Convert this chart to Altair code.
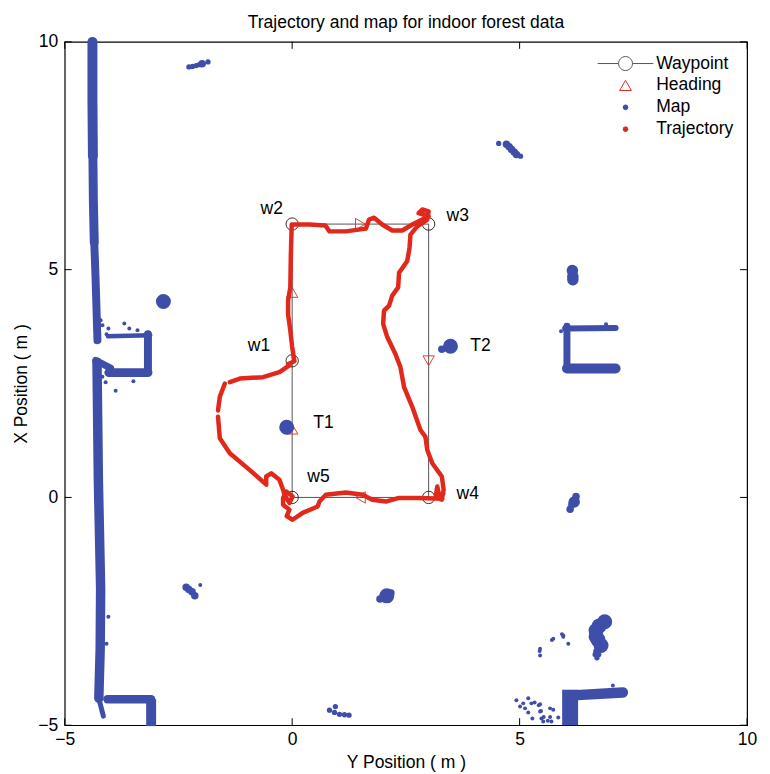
import altair as alt
import pandas as pd

# ---------- data (Y position, X position in metres) ----------
series_names = ["Waypoint", "Heading", "Map", "Trajectory"]
ticks = [-5, 0, 5, 10]

way_y = [0, 0, 3, 3, 0]
way_x = [0, 6, 6, 0, 0]
way_circle_y = [0, 0, 3, 3, 0]
way_circle_x = [3, 6, 6, 0, 0]

head_y = [0, 1.5, 3, 1.5, 0]
head_x = [4.5, 6, 3, 0, 1.5]
head_shape = ["triangle-up", "triangle-right", "triangle-down", "triangle-left", "triangle-up"]

traj_y = [-0.09, .05, 0, -.04, -.09, -.09, -.04, -.03, -.01, .38, .73, .82, 1.18, 1.62, 1.69, 1.80, 1.98, 2.20, 2.42, 2.64, 2.86, 3.00, 2.78, 2.86, 3.00, 2.97, 2.75, 2.60, 2.58, 2.53, 2.35, 2.33, 2.20, 2.13, 2.02, 2.00, 2.09, 2.27, 2.38, 2.46, 2.64, 2.82, 2.93, 2.97, 3.08, 3.29, 3.33, 3.29, 3.15, 3.19, 3.24, 3.32, 3.22, 3.30, 2.78, 2.35, 2.06, 1.76, 1.55, 1.18, .74, .60, .56, .23, .01, -.12, -.06, -.20, -.20, -.13, .01, -.06, -.17, -.20, -.28, -.46, -.57, -.57, -.93, -1.37, -1.59, -1.63]
traj_x = [2.93, 2.99, 3.30, 3.66, 4.02, 4.32, 4.61, 5.26, 5.99, 5.99, 5.97, 5.84, 5.84, 5.90, 6.10, 6.14, 5.99, 5.86, 5.86, 5.99, 6.10, 6.17, 6.24, 6.32, 6.28, 6.10, 5.95, 5.77, 5.48, 5.19, 4.93, 4.61, 4.43, 4.21, 4.10, 3.81, 3.52, 3.15, 2.86, 2.42, 1.99, 1.48, 1.33, 1.04, .75, .46, .17, -.05, -.01, .24, -.01, .08, .06, -.03, -.01, -.01, -.09, -.05, .06, .11, .06, -.09, -.20, -.34, -.49, -.41, -.27, -.16, -.01, .13, .02, -.12, .06, .17, .39, .53, .46, .28, .60, .97, 1.30, 1.77]
traj2_y = [-1.63, -1.59, -1.48]
traj2_x = [1.91, 2.21, 2.50]
traj3_y = [-1.37, -1.15, -.64, -.28, -.06]
traj3_x = [2.53, 2.61, 2.64, 2.75, 2.90]

# map walls: (Y list, X list)
wall_top = ([-4.39, -4.39, -4.38], [10, 8.69, 7.5])
wall_top_mid = ([-4.38, -4.37, -4.35], [7.5, 6.51, 5.6])
wall_top_low = ([-4.35, -4.32, -4.28], [5.6, 4.76, 3.45])
wall_low = ([-4.29, -4.26, -4.21, -4.22, -4.25], [2.97, .39, -2.0, -3.32, -4.41])
wall_low_tip = ([-4.25, -4.15], [-4.41, -4.80])
wall_diag = ([-4.32, -3.99], [3.01, 2.84])
stub_upper = ([-4.05, -3.12], [3.54, 3.56])
stub_side = ([-3.17, -3.17], [3.58, 2.75])
stub_lower = ([-4.03, -3.17], [2.74, 2.74])
foot_h = ([-4.06, -3.10], [-4.43, -4.43])
foot_v = ([-3.10, -3.10], [-4.43, -5.02])
bracket_top = ([6.0, 7.11], [3.71, 3.72])
bracket_side = ([6.04, 6.04], [3.76, 2.88])
bracket_low = ([6.04, 7.11], [2.83, 2.83])
corner_h = ([6.07, 7.27], [-4.35, -4.28])
corner_v = ([6.11, 6.11], [-4.22, -5.0])

# clumps of map points
clump_large_y = [-.12, 3.48, -2.83, 2.08, 6.87, 6.75, 6.68, 6.68, 6.72, 6.79]
clump_large_x = [1.54, 3.32, 4.30, -2.16, -2.73, -2.82, -2.92, -3.05, -3.12, -3.25]
clump_big_y = [6.16, 6.17, 6.17, 6.20]
clump_big_x = [4.98, 4.85, 4.78, -.10]
clump_mid_y = [-2.88, -2.78, 1.93, 2.17, 6.15, 6.17, 6.17, 6.24, 6.20, 6.15, 6.11, 4.71, 4.77, 4.82, 4.88, 4.93, -2.33, -2.27, -2.20, -2.14, 3.29, 6.70, 6.72, -1.98]
clump_mid_x = [4.29, 4.29, -2.23, -2.10, 5.02, 4.91, 4.74, .02, -.07, -.15, -.26, 7.75, 7.70, 7.64, 7.58, 7.53, -1.97, -2.02, -2.07, -2.16, 3.25, -3.38, -3.25, 9.52]
clump_small_y = [-2.27, -2.11, -1.96, -1.85, -2.19, -2.04, 4.54, 5.02, .82, .93, 1.04, 1.15, 1.25, .95, 6.70, 6.66, 6.74]
clump_small_x = [9.45, 9.48, 9.52, 9.56, 9.46, 9.50, 7.77, 7.49, -4.67, -4.72, -4.76, -4.77, -4.78, -4.59, -3.52, -3.45, -3.45]
dots_y = [5.74, 5.71, 5.96, 5.93, 5.96, 6.07, 5.45, 5.44, 5.45, 4.93, 5.19, 5.08, 5.01, 5.12, 5.26, 5.33, 5.45, 5.42, 5.19, 5.28, 5.45, 5.47, 5.67, 5.74, 5.48, 5.53, 5.67, 5.52, 5.70, 5.85, 5.62, 7.05, -3.69, -3.58, -3.40, -4.08, -3.49, -3.88, -4.10, -4.17, -4.21, -4.17, -4.04, 5.91, 6.90, -4.04, -4.08, -2.02]
dots_x = [-3.10, -3.13, -3.03, -3.0, -3.06, -3.21, -3.32, -3.37, -3.47, -4.45, -4.41, -4.52, -4.59, -4.63, -4.52, -4.5, -4.54, -4.56, -4.72, -4.85, -4.70, -4.69, -4.63, -4.66, -4.85, -4.82, -4.82, -4.92, -4.92, -4.83, -4.90, -4.13, 3.82, 3.71, 3.67, 3.58, 2.55, 2.34, 2.53, 2.65, 3.89, 3.78, 3.71, 3.65, 3.80, -2.62, -3.21, -1.92]

label_text = ["w1", "w2", "w3", "w4", "w5", "T1", "T2"]
label_y = [-.73, -.45, 3.64, 3.86, .58, .69, 4.14]
label_x = [3.32, 6.33, 6.18, .07, .44, 1.64, 3.32]

# ---------- style ----------
BLUE = "#3f4ea8"
RED = "#e1291b"
GREY = "#555555"
FONT = "Liberation Sans"
FS = 17.6
W, H = 686, 687
wall_widths = [
    (wall_top, 10), (wall_top_mid, 9), (wall_top_low, 8), (wall_low, 9.5), (wall_low_tip, 5), (wall_diag, 7),
    (stub_upper, 4.5), (stub_side, 8), (stub_lower, 9), (foot_h, 8.5),
    (bracket_top, 6), (bracket_side, 7), (bracket_low, 10), (corner_h, 10.5),
]
butt_widths = [(foot_v, 10), (corner_v, 16)]

sx = alt.Scale(domain=[-5, 10], nice=False, zero=False)
sy = alt.Scale(domain=[-5, 10], nice=False, zero=False)
x_axis = alt.Axis(values=ticks, title="Y Position ( m )", grid=False, ticks=False, domain=False, labelFlush=False,
                  labelFontSize=FS, labelFont=FONT, labelColor="black", labelPadding=5,
                  titleFontSize=FS, titleFont=FONT, titleFontWeight="normal", titleColor="black", titlePadding=6)
y_axis = alt.Axis(values=ticks, title="X Position ( m )", grid=False, ticks=False, domain=False, labelFlush=False,
                  labelFontSize=FS, labelFont=FONT, labelColor="black", labelPadding=7,
                  titleFontSize=FS, titleFont=FONT, titleFontWeight="normal", titleColor="black", titlePadding=7)
X = alt.X("y:Q", scale=sx, axis=x_axis)
Y = alt.Y("x:Q", scale=sy, axis=y_axis)


def frame(ys, xs):
    return pd.DataFrame({"y": ys, "x": xs})


layers = []

# waypoint path and headings sit under the map
layers.append(alt.Chart(frame(way_y, way_x).assign(o=range(5))).mark_line(color=GREY, strokeWidth=1).encode(x=X, y=Y, order="o:Q"))
for shape in dict.fromkeys(head_shape):
    d = pd.DataFrame({"y": head_y, "x": head_x, "s": head_shape})
    d = d[d.s == shape]
    layers.append(alt.Chart(d).mark_point(shape=shape, size=130, color=RED, strokeWidth=0.9, filled=False, opacity=1).encode(x=X, y=Y))

# map
for (ys, xs), w in wall_widths:
    layers.append(alt.Chart(frame(ys, xs).assign(o=range(len(ys)))).mark_line(color=BLUE, strokeWidth=w, strokeCap="round", strokeJoin="round").encode(x=X, y=Y, order="o:Q"))
for (ys, xs), w in butt_widths:
    layers.append(alt.Chart(frame(ys, xs).assign(o=range(len(ys)))).mark_line(color=BLUE, strokeWidth=w, strokeCap="butt", clip=False).encode(x=X, y=Y, order="o:Q"))
for ys, xs, d in [(clump_large_y, clump_large_x, 17), (clump_big_y, clump_big_x, 13), (clump_mid_y, clump_mid_x, 8.5), (clump_small_y, clump_small_x, 6), (dots_y, dots_x, 4.5)]:
    layers.append(alt.Chart(frame(ys, xs)).mark_circle(color=BLUE, size=3.1416 * d * d / 4, opacity=1).encode(x=X, y=Y))

# waypoint circles
layers.append(alt.Chart(frame(way_circle_y, way_circle_x)).mark_point(shape="circle", size=154, color="black", strokeWidth=0.8, filled=False, opacity=1).encode(x=X, y=Y))

# trajectory
for ys, xs in [(traj_y, traj_x), (traj2_y, traj2_x), (traj3_y, traj3_x)]:
    layers.append(alt.Chart(frame(ys, xs).assign(o=range(len(ys)))).mark_line(color=RED, strokeWidth=4.5, strokeCap="round", strokeJoin="round").encode(x=X, y=Y, order="o:Q"))

# annotations
layers.append(alt.Chart(pd.DataFrame({"y": label_y, "x": label_x, "t": label_text})).mark_text(font=FONT, fontSize=FS, color="black", align="center", baseline="middle").encode(x=X, y=Y, text="t:N"))

# inward ticks on all four sides
tick_df = pd.DataFrame({"t": ticks})
TLEN = 7
tick_x = alt.X("t:Q", scale=sx, axis=x_axis)
tick_y = alt.Y("t:Q", scale=sy, axis=y_axis)
rule = alt.Chart(tick_df).mark_rule(color="black", strokeWidth=1)
layers += [
    rule.encode(x=tick_x, y=alt.value(H), y2=alt.value(H - TLEN)),
    rule.encode(x=tick_x, y=alt.value(0), y2=alt.value(TLEN)),
    rule.encode(y=tick_y, x=alt.value(0), x2=alt.value(TLEN)),
    rule.encode(y=tick_y, x=alt.value(W), x2=alt.value(W - TLEN)),
]

# legend carrier: points outside the domain, clipped away
legend_df = pd.DataFrame({"y": [-9] * 4, "x": [-9] * 4, "series": series_names})
WAY_PATH = "M-4,0H-1 M1,0H4 M-1,0A1,1 0 1 0 1,0A1,1 0 1 0 -1,0"
leg = alt.Legend(orient="none", legendX=W - 131, legendY=13, title=None, labelFont=FONT, labelFontSize=FS, labelColor="black",
                 labelOffset=22, symbolStrokeWidth=1, rowPadding=3, padding=0)
layers.append(alt.Chart(legend_df).mark_point(filled=True, clip=True, opacity=1).encode(
    x=X, y=Y,
    shape=alt.Shape("series:N", scale=alt.Scale(domain=series_names, range=[WAY_PATH, "triangle-up", "circle", "circle"]), legend=leg),
    stroke=alt.Stroke("series:N", scale=alt.Scale(domain=series_names, range=[GREY, RED, BLUE, RED]), legend=leg),
    fill=alt.Fill("series:N", scale=alt.Scale(domain=series_names, range=["transparent", "transparent", BLUE, RED]), legend=leg),
    size=alt.Size("series:N", scale=alt.Scale(type="ordinal", domain=series_names, range=[196, 140, 22, 22]), legend=leg),
))

chart = alt.layer(*layers).properties(
    width=W, height=H,
    title=alt.TitleParams("Trajectory and map for indoor forest data", font=FONT, fontSize=FS, fontWeight="normal", color="black", offset=1),
    padding={"left": 4, "top": 4, "right": 5, "bottom": 0},
).configure_view(stroke="black", strokeWidth=1.2)

chart.save("out.html", embed_options={"renderer": "svg", "actions": False})
